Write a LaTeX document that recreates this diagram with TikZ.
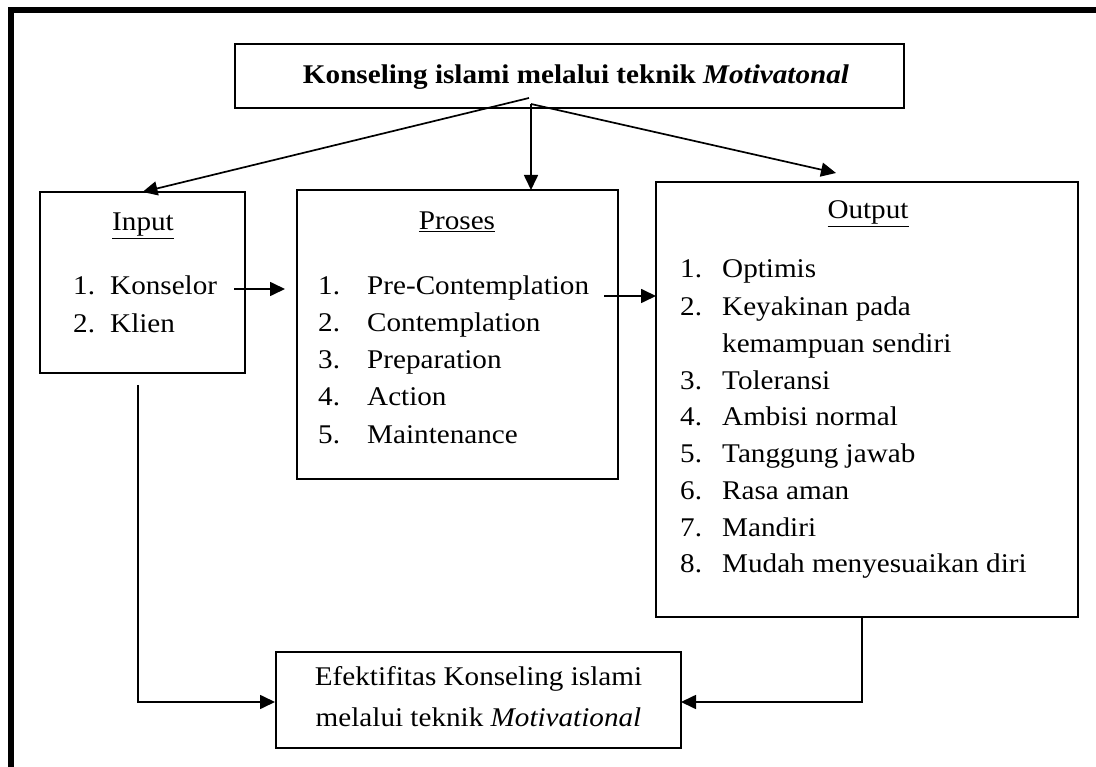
\documentclass[tikz,border=0pt]{standalone}
\usepackage{fontspec}
\setmainfont{Liberation Serif}[FakeStretch=1.08]
\usetikzlibrary{arrows.meta}
\begin{document}
\begin{tikzpicture}[x=1pt,y=-1pt,
  box/.style={draw, line width=1.8pt, inner sep=0pt, outer sep=0pt},
  txt/.style={anchor=base west, inner sep=0pt, font=\fontsize{27}{37}\selectfont},
  ttl/.style={anchor=base, inner sep=0pt, font=\fontsize{27}{37}\selectfont},
  bld/.style={anchor=base, inner sep=0pt, font=\bfseries\fontsize{27}{37}\selectfont},
  arr/.style={line width=1.7pt, -{Triangle[length=15pt,width=14pt]}}]
\useasboundingbox (0,0) rectangle (1096,767);
\clip (0,0) rectangle (1096,767);
\fill[white] (0,0) rectangle (1096,767);
\draw[line width=6pt] (10.5,800) -- (10.5,10.5) -- (1120,10.5);

% boxes
\node[box, minimum width=669pt, minimum height=64pt] (top) at (569.5,76) {};
\node[box, minimum width=205pt, minimum height=181pt] (inp) at (142.5,282.5) {};
\node[box, minimum width=321pt, minimum height=289pt] (pro) at (457.5,334.5) {};
\node[box, minimum width=422pt, minimum height=435pt] (out) at (867,399.5) {};
\node[box, minimum width=405pt, minimum height=96pt] (efe) at (478.5,700) {};

% title text
\node[bld] (toptxt) at (576,84) {Konseling islami melalui teknik \textit{Motivatonal}};

% input
\node[ttl] (inpT) at (143,231) {\underline{Input}};
\node[txt] (i1n) at (73,295) {1.};
\node[txt] (i1) at (110,295) {Konselor};
\node[txt] (i2n) at (73,333) {2.};
\node[txt] (i2) at (110,333) {Klien};

% proses
\node[ttl] (proT) at (457,230) {\underline{Proses}};
\node[txt] (p1n) at (318,295) {1.};
\node[txt] (p1) at (367,295) {Pre-Contemplation};
\node[txt] (p2n) at (318,332) {2.};
\node[txt] (p2) at (367,332) {Contemplation};
\node[txt] (p3n) at (318,369) {3.};
\node[txt] (p3) at (367,369) {Preparation};
\node[txt] (p4n) at (318,406) {4.};
\node[txt] (p4) at (367,406) {Action};
\node[txt] (p5n) at (318,443) {5.};
\node[txt] (p5) at (367,443) {Maintenance};

% output
\node[ttl] (outT) at (868,219) {\underline{Output}};
\node[txt] (o1n) at (680,278) {1.};
\node[txt] (o1) at (722,278) {Optimis};
\node[txt] (o2n) at (680,316) {2.};
\node[txt] (o2) at (722,316) {Keyakinan pada};
\node[txt] (o2b) at (722,353) {kemampuan sendiri};
\node[txt] (o3n) at (680,390) {3.};
\node[txt] (o3) at (722,390) {Toleransi};
\node[txt] (o4n) at (680,426) {4.};
\node[txt] (o4) at (722,426) {Ambisi normal};
\node[txt] (o5n) at (680,463) {5.};
\node[txt] (o5) at (722,463) {Tanggung jawab};
\node[txt] (o6n) at (680,499) {6.};
\node[txt] (o6) at (722,499) {Rasa aman};
\node[txt] (o7n) at (680,536) {7.};
\node[txt] (o7) at (722,536) {Mandiri};
\node[txt] (o8n) at (680,572) {8.};
\node[txt] (o8) at (722,572) {Mudah menyesuaikan diri};

% efektifitas
\node[ttl] (e1) at (478.5,685) {Efektifitas Konseling islami};
\node[ttl] (e2) at (478.5,726) {melalui teknik \textit{Motivational}};

% connectors
\coordinate (tl) at (529,98);
\coordinate (tv) at (531,104);
\coordinate (tr) at (836,173);
\coordinate (tvb) at (531,190);
\draw[arr] (tl) -- (inp.north);
\draw[arr] (tv) -- (tvb);
\draw[arr] (tv) -- (tr);

\coordinate (ka) at (234,289);
\coordinate (kb) at (285,289);
\draw[arr] (ka) -- (kb);

\coordinate (pa) at (604,296);
\coordinate (pb) at (656,296);
\draw[arr] (pa) -- (pb);

\coordinate (bl) at (138,385);
\coordinate (bl2) at (275,702);
\draw[arr] (bl) |- (bl2);

\coordinate (br) at (862,617);
\coordinate (br2) at (681,702);
\draw[arr] (br) |- (br2);
\end{tikzpicture}
\end{document}
